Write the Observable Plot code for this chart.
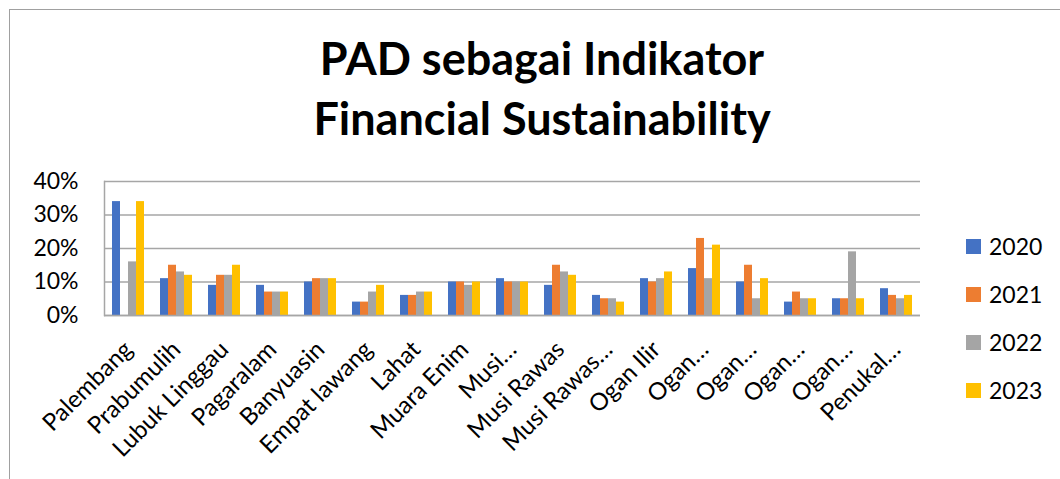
<!DOCTYPE html>
<html>
<head>
<meta charset="utf-8">
<script src="https://cdn.jsdelivr.net/npm/d3@7"></script>
<script src="https://cdn.jsdelivr.net/npm/@observablehq/plot@0.6"></script>
<style>
  html, body { margin: 0; padding: 0; background: #fff; }
  #wrap { position: relative; width: 1060px; height: 479px; overflow: hidden; font-family: Lato, "Open Sans", sans-serif; }
  #border { position: absolute; left: 9px; top: 9px; width: 1100px; height: 500px; border-top: 1.5px solid #a0a0a0; border-left: 1.5px solid #a0a0a0; }
  #title { position: absolute; left: 0; width: 1084px; top: 28px; text-align: center; font-weight: 700; font-size: 45px; line-height: 60px; color: #000; }
  #legend { position: absolute; left: 966px; top: 222px; }
  .item { display: flex; align-items: center; height: 48px; font-size: 23px; color: #000; }
  .sw { width: 15px; height: 15px; margin-right: 8px; }
  #chart { position: absolute; left: 0; top: 0; }
</style>
</head>
<body>
<div id="wrap">
  <div id="border"></div>
  <div id="chart"></div>
  <div id="title">PAD sebagai Indikator<br>Financial Sustainability</div>
  <div id="legend"></div>
</div>
<script>
const regions = ["Palembang","Prabumulih","Lubuk Linggau","Pagaralam","Banyuasin","Empat lawang","Lahat","Muara Enim","Musi Banyuasin","Musi Rawas","Musi Rawas Utara","Ogan Ilir","Ogan Komering Ilir","Ogan Komering Ulu","Ogan Komering Ulu Selatan","Ogan Komering Ulu Timur","Penukal Abab Lematang Ilir"];
const tickLabels = ["Palembang","Prabumulih","Lubuk Linggau","Pagaralam","Banyuasin","Empat lawang","Lahat","Muara Enim","Musi…","Musi Rawas","Musi Rawas…","Ogan Ilir","Ogan…","Ogan…","Ogan…","Ogan…","Penukal…"];
const years = ["2020","2021","2022","2023"];
const v2020 = [0.34,0.11,0.09,0.09,0.10,0.04,0.06,0.10,0.11,0.09,0.06,0.11,0.14,0.10,0.04,0.05,0.08];
const v2021 = [null,0.15,0.12,0.07,0.11,0.04,0.06,0.10,0.10,0.15,0.05,0.10,0.23,0.15,0.07,0.05,0.06];
const v2022 = [0.16,0.13,0.12,0.07,0.11,0.07,0.07,0.09,0.10,0.13,0.05,0.11,0.11,0.05,0.05,0.19,0.05];
const v2023 = [0.34,0.12,0.15,0.07,0.11,0.09,0.07,0.10,0.10,0.12,0.04,0.13,0.21,0.11,0.05,0.05,0.06];
const yTicks = [0, 0.1, 0.2, 0.3, 0.4];
const colors = ["#4472C4","#ED7D31","#A5A5A5","#FFC000"];

const series = [v2020, v2021, v2022, v2023];
const data = [];
regions.forEach((r, i) => years.forEach((y, j) => {
  if (series[j][i] != null) data.push({region: r, year: y, value: series[j][i]});
}));
const labelOf = new Map(regions.map((r, i) => [r, tickLabels[i]]));

const chart = Plot.plot({
  width: 1060,
  height: 479,
  marginLeft: 101,
  marginRight: 137,
  marginTop: 181,
  marginBottom: 164,
  style: {fontFamily: "Lato, 'Open Sans', sans-serif", fontSize: "22px", color: "#000", background: "transparent"},
  fx: {domain: regions, padding: 0, label: null},
  x: {domain: years, padding: 0, paddingOuter: 0.79, axis: null},
  y: {domain: [0, 0.4], label: null},
  color: {domain: years, range: colors},
  marks: [
    Plot.gridY(yTicks, {stroke: "#a6a6a6", strokeOpacity: 1, strokeWidth: 1.5}),
    Plot.frame({anchor: "left", facet: "super", stroke: "#a6a6a6", strokeWidth: 1.5}),
    Plot.barY(data, {fx: "region", x: "year", y: "value", fill: "year"}),
    Plot.ruleY([0], {stroke: "#a6a6a6", strokeWidth: 1.5}),
    Plot.axisY(yTicks, {tickFormat: d3.format(".0%"), tickSize: 0, tickPadding: 26, fontSize: 23, label: null}),
    Plot.axisFx({anchor: "bottom", tickRotate: -45, tickSize: 0, tickPadding: 30, fontSize: 24, label: null, tickFormat: d => labelOf.get(d)})
  ]
});
document.getElementById("chart").appendChild(chart);

const legend = document.getElementById("legend");
years.forEach((y, j) => {
  const it = document.createElement("div");
  it.className = "item";
  it.innerHTML = `<span class="sw" style="background:${colors[j]}"></span><span>${y}</span>`;
  legend.appendChild(it);
});
</script>
</body>
</html>
